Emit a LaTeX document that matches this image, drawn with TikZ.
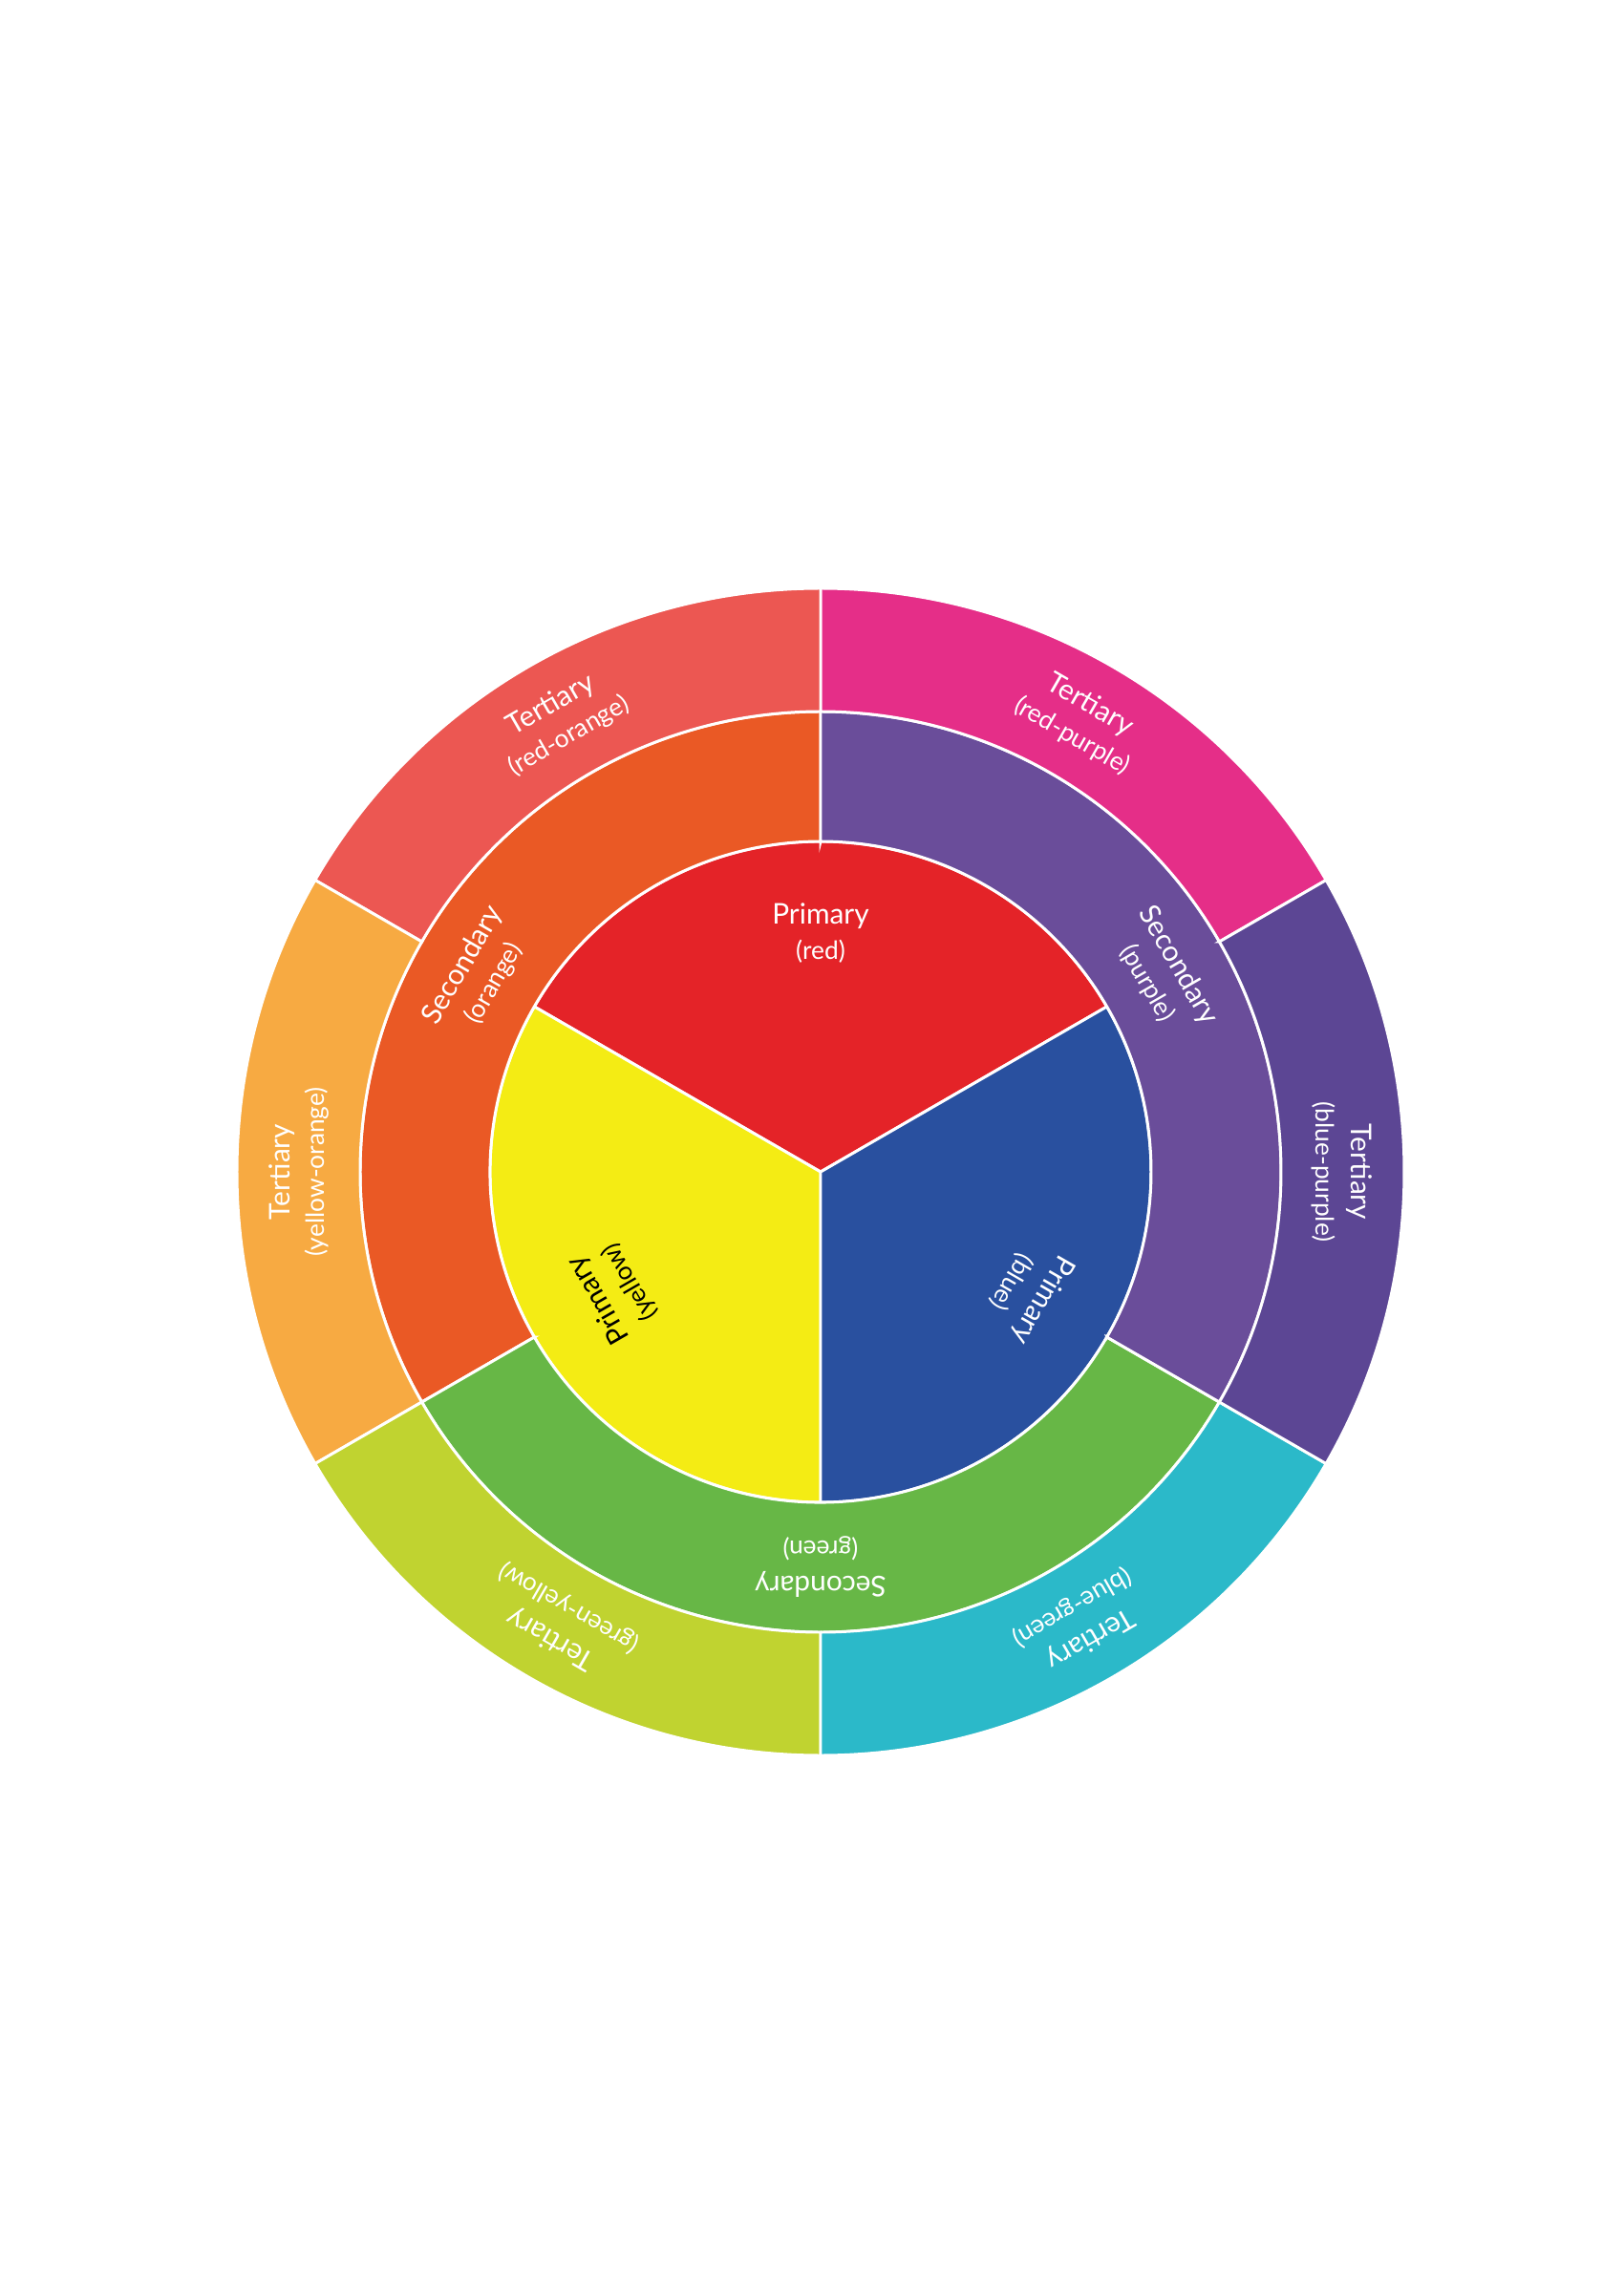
\documentclass[tikz,border=0pt]{standalone}
\usepackage{fontspec}
\setmainfont{Lato}
\definecolor{wheel_red}{RGB}{228, 35, 40}
\definecolor{wheel_yellow}{RGB}{244, 236, 20}
\definecolor{wheel_blue}{RGB}{41, 80, 159}
\definecolor{wheel_orange}{RGB}{234, 89, 37}
\definecolor{wheel_purple}{RGB}{106, 77, 154}
\definecolor{wheel_green}{RGB}{103, 183, 70}
\definecolor{wheel_red_orange}{RGB}{236, 87, 82}
\definecolor{wheel_red_purple}{RGB}{229, 46, 136}
\definecolor{wheel_blue_purple}{RGB}{92, 70, 148}
\definecolor{wheel_blue_green}{RGB}{43, 185, 201}
\definecolor{wheel_green_yellow}{RGB}{192, 211, 48}
\definecolor{wheel_yellow_orange}{RGB}{247, 170, 66}
\tikzstyle{segment} = [draw=white, line width=0.85pt]
\tikzstyle{wheeltext} = [text=white, align=center, inner sep=0pt, font=\fontsize{8.5}{10.5}\selectfont]
\newcommand{\huename}[1]{{\fontsize{7.5}{10.5}\selectfont #1}}

\begin{document}
\begin{tikzpicture}
        \useasboundingbox (-8.59,-11.77) rectangle (8.41,12.27);

        % primary
        \draw [segment, fill=wheel_red] (0,0) -- (30:3.46) arc[start angle=30, end angle=150, radius=3.46] -- cycle;
        \draw [segment, fill=wheel_yellow] (0,0) -- (150:3.46) arc[start angle=150, end angle=270, radius=3.46] -- cycle;
        \draw [segment, fill=wheel_blue] (0,0) -- (270:3.46) arc[start angle=270, end angle=390, radius=3.46] -- cycle;

        % secondary
        \draw [segment, fill=wheel_orange] (90:3.46) -- (90:4.82) arc[start angle=90, end angle=210, radius=4.82] -- (210:3.46) arc[start angle=210, end angle=90, radius=3.46] -- cycle;
        \draw [segment, fill=wheel_green] (210:3.46) -- (210:4.82) arc[start angle=210, end angle=330, radius=4.82] -- (330:3.46) arc[start angle=330, end angle=210, radius=3.46] -- cycle;
        \draw [segment, fill=wheel_purple] (-30:3.46) -- (-30:4.82) arc[start angle=-30, end angle=90, radius=4.82] -- (90:3.46) arc[start angle=90, end angle=-30, radius=3.46] -- cycle;

        % tertiary
        \draw [segment, fill=wheel_red_purple] (30:4.82) -- (30:6.11) arc[start angle=30, end angle=90, radius=6.11] -- (90:4.82) arc[start angle=90, end angle=30, radius=4.82] -- cycle;
        \draw [segment, fill=wheel_red_orange] (90:4.82) -- (90:6.11) arc[start angle=90, end angle=150, radius=6.11] -- (150:4.82) arc[start angle=150, end angle=90, radius=4.82] -- cycle;
        \draw [segment, fill=wheel_yellow_orange] (150:4.82) -- (150:6.11) arc[start angle=150, end angle=210, radius=6.11] -- (210:4.82) arc[start angle=210, end angle=150, radius=4.82] -- cycle;
        \draw [segment, fill=wheel_green_yellow] (210:4.82) -- (210:6.11) arc[start angle=210, end angle=270, radius=6.11] -- (270:4.82) arc[start angle=270, end angle=210, radius=4.82] -- cycle;
        \draw [segment, fill=wheel_blue_green] (270:4.82) -- (270:6.11) arc[start angle=270, end angle=330, radius=6.11] -- (330:4.82) arc[start angle=330, end angle=270, radius=4.82] -- cycle;
        \draw [segment, fill=wheel_blue_purple] (-30:4.82) -- (-30:6.11) arc[start angle=-30, end angle=30, radius=6.11] -- (30:4.82) arc[start angle=30, end angle=-30, radius=4.82] -- cycle;

        \node (primaryred) [wheeltext] at (90:2.5) {Primary\\\huename{(red)}};
        \node (primaryblue) [wheeltext, rotate=-120] at (-30:2.5) {Primary\\\huename{(blue)}};
        \node (primaryyellow) [wheeltext, text=black, rotate=120] at (210:2.5) {Primary\\\huename{(yellow)}};

        \node (secondaryorange) [wheeltext, rotate=60] at (150:4.14) {Secondary\\\huename{(orange)}};
        \node (secondarygreen) [wheeltext, rotate=180] at (270:4.14) {Secondary\\\huename{(green)}};
        \node (secondarypurple) [wheeltext, rotate=-60] at (30:4.14) {Secondary\\\huename{(purple)}};

        \node (tertiaryredpurple) [wheeltext, rotate=-30] at (60:5.46) {Tertiary\\\huename{(red-purple)}};
        \node (tertiaryredorange) [wheeltext, rotate=30] at (120:5.46) {Tertiary\\\huename{(red-orange)}};
        \node (tertiaryyelloworange) [wheeltext, rotate=90] at (180:5.46) {Tertiary\\\huename{(yellow-orange)}};
        \node (tertiarygreenyellow) [wheeltext, rotate=150] at (240:5.46) {Tertiary\\\huename{(green-yellow)}};
        \node (tertiarybluegreen) [wheeltext, rotate=210] at (300:5.46) {Tertiary\\\huename{(blue-green)}};
        \node (tertiarybluepurple) [wheeltext, rotate=-90] at (0:5.46) {Tertiary\\\huename{(blue-purple)}};
    \end{tikzpicture}
\end{document}
